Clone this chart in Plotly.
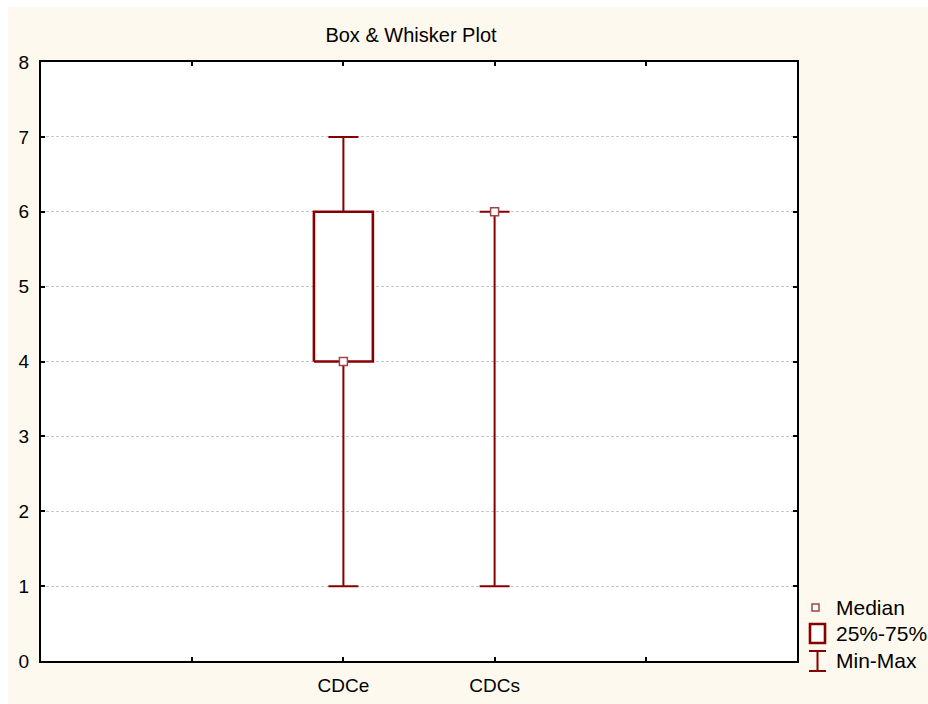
import numpy as np
import plotly.graph_objects as go

# ---- data ----
categories = ["CDCe", "CDCs"]
mins = [1, 1]
q1s = [4, 6]
medians = [4, 6]
q3s = [6, 6]
maxs = [7, 6]
y_ticks = [0, 1, 2, 3, 4, 5, 6, 7, 8]
legend_labels = ["Median", "25%-75%", "Min-Max"]
title_text = "Box & Whisker Plot"

RED = "#870000"
MED_EDGE = "#A04646"
CREAM = "#FEF9EE"
FONT = "Liberation Sans, Arial, sans-serif"

W, H = 928, 704
L, R, T, B = 41, 797, 62, 661

xpos = np.arange(len(categories)) + 2  # categories sit on ticks 2,3 of 1..4
box_half = 0.195

fig = go.Figure()

# whiskers with caps (min-max)
fig.add_trace(go.Scatter(
    x=xpos, y=medians, mode="markers",
    marker=dict(size=1, color="rgba(0,0,0,0)"),
    error_y=dict(type="data", symmetric=False,
                 array=[mx - md for mx, md in zip(maxs, medians)],
                 arrayminus=[md - mn for md, mn in zip(medians, mins)],
                 color=RED, thickness=2, width=15),
    showlegend=False, hoverinfo="skip"))

# boxes (25%-75%)
for xc, lo, hi in zip(xpos, q1s, q3s):
    if hi > lo:
        fig.add_trace(go.Scatter(
            x=[xc - box_half, xc + box_half, xc + box_half, xc - box_half, xc - box_half],
            y=[lo, lo, hi, hi, lo],
            mode="lines", fill="toself", fillcolor="white",
            line=dict(color=RED, width=2.6),
            showlegend=False, hoverinfo="skip"))

# medians
fig.add_trace(go.Scatter(
    x=xpos, y=medians, mode="markers",
    marker=dict(symbol="square", size=8, color="white",
                line=dict(color=MED_EDGE, width=1.5)),
    showlegend=False, hoverinfo="skip"))

# ---- custom legend in pixel -> paper coords ----
def px(xp):
    return (xp - L) / (R - L)

def py(yp):
    return (B - yp) / (B - T)

shapes = []
# white strips at left and top edges
shapes.append(dict(type="rect", xref="paper", yref="paper",
                   x0=px(0), x1=px(8), y0=py(H), y1=py(0),
                   fillcolor="white", line=dict(width=0), layer="below"))
shapes.append(dict(type="rect", xref="paper", yref="paper",
                   x0=px(0), x1=px(W), y0=py(7), y1=py(0),
                   fillcolor="white", line=dict(width=0), layer="below"))
# Median icon
shapes.append(dict(type="rect", xref="paper", yref="paper",
                   x0=px(812), x1=px(819), y0=py(611), y1=py(604),
                   fillcolor="white", line=dict(color=MED_EDGE, width=1.5)))
# box icon
shapes.append(dict(type="rect", xref="paper", yref="paper",
                   x0=px(810), x1=px(825), y0=py(643), y1=py(624),
                   fillcolor="white", line=dict(color=RED, width=2.6)))
# min-max icon
shapes.append(dict(type="line", xref="paper", yref="paper",
                   x0=px(817.5), x1=px(817.5), y0=py(671), y1=py(651),
                   line=dict(color=RED, width=2)))
shapes.append(dict(type="line", xref="paper", yref="paper",
                   x0=px(809), x1=px(826), y0=py(651), y1=py(651),
                   line=dict(color=RED, width=2)))
shapes.append(dict(type="line", xref="paper", yref="paper",
                   x0=px(809), x1=px(826), y0=py(671), y1=py(671),
                   line=dict(color=RED, width=2)))

annotations = []
for lab, yc in zip(legend_labels, [607, 633, 660]):
    annotations.append(dict(text=lab, xref="paper", yref="paper",
                            x=px(834), y=py(yc), xanchor="left", yanchor="middle",
                            showarrow=False, font=dict(family=FONT, size=21, color="black")))

fig.update_layout(
    width=W, height=H,
    margin=dict(l=L, r=W - R, t=T, b=H - B, pad=0, autoexpand=False),
    paper_bgcolor=CREAM, plot_bgcolor="white",
    title=dict(text=title_text, x=411 / W, y=1 - 35 / H, xanchor="center", yanchor="middle",
               font=dict(family=FONT, size=20, color="black"), automargin=False),
    font=dict(family=FONT, size=19, color="black"),
    showlegend=False,
    shapes=shapes, annotations=annotations,
    xaxis=dict(range=[0, 5], tickvals=[1, 2, 3, 4], ticktext=[""] + categories + [""],
               showgrid=False, zeroline=False, showline=True, linecolor="black", linewidth=2,
               mirror="ticks", ticks="inside", ticklen=4, tickwidth=2, tickcolor="black",
               ticklabelstandoff=6, automargin=False,
               tickfont=dict(family=FONT, size=19), fixedrange=True),
    yaxis=dict(range=[0, 8], tickvals=y_ticks,
               showgrid=True, gridcolor="#C8C8C8", gridwidth=1, griddash="3px,2px",
               zeroline=False, showline=True, linecolor="black", linewidth=2,
               mirror="ticks", ticks="inside", ticklen=4, tickwidth=2, tickcolor="black",
               ticklabelstandoff=6, automargin=False,
               tickfont=dict(family=FONT, size=19), fixedrange=True),
)

fig.write_html("out.html", config=dict(displayModeBar=False))
